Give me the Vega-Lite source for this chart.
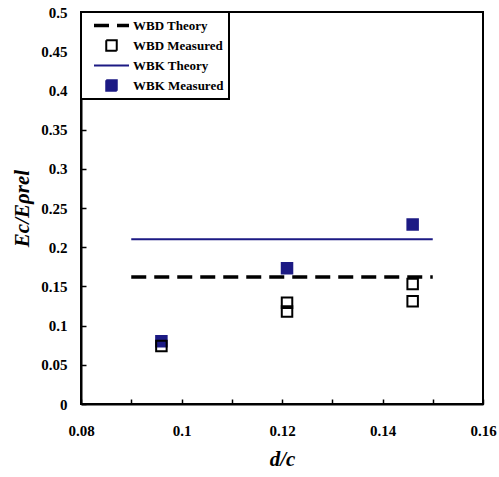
{
  "$schema": "https://vega.github.io/schema/vega-lite/v6.json",
  "width": 402,
  "height": 392,
  "autosize": "none",
  "padding": {"left": 81, "top": 12, "right": 16, "bottom": 73},
  "background": "white",
  "config": {
    "view": {"stroke": "black", "strokeWidth": 2},
    "font": "Liberation Serif",
    "axis": {
      "grid": false,
      "labelFont": "Liberation Serif",
      "labelFontWeight": "bold",
      "labelFontSize": 15,
      "labelColor": "black",
      "labelFlush": false,
      "labelOverlap": false,
      "labelBound": false,
      "domainColor": "black",
      "domainWidth": 2,
      "tickColor": "black",
      "tickWidth": 1.5,
      "tickSize": -5,
      "titleFont": "Liberation Serif",
      "titleFontStyle": "italic",
      "titleFontWeight": "bold",
      "titleFontSize": 21,
      "titleColor": "black"
    },
    "legend": {
      "orient": "top-left",
      "offset": 0,
      "title": null,
      "strokeColor": "black",
      "strokeWidth": 2,
      "fillColor": "white",
      "padding": 5,
      "labelFont": "Liberation Serif",
      "labelFontWeight": "bold",
      "labelFontSize": 13,
      "labelColor": "black",
      "labelOffset": 2,
      "clipHeight": 17,
      "rowPadding": 3,
      "symbolSize": 1225,
      "symbolOpacity": 1,
      "symbolOffset": 6
    }
  },
  "data": {
    "values": [
      {"series": "WBD Theory", "x": 0.09, "y": 0.162},
      {"series": "WBD Theory", "x": 0.15, "y": 0.162},
      {"series": "WBK Theory", "x": 0.09, "y": 0.21},
      {"series": "WBK Theory", "x": 0.15, "y": 0.21},
      {"series": "WBK Measured", "x": 0.096, "y": 0.08},
      {"series": "WBK Measured", "x": 0.121, "y": 0.173},
      {"series": "WBK Measured", "x": 0.146, "y": 0.229},
      {"series": "WBD Measured", "x": 0.096, "y": 0.074},
      {"series": "WBD Measured", "x": 0.121, "y": 0.118},
      {"series": "WBD Measured", "x": 0.121, "y": 0.129},
      {"series": "WBD Measured", "x": 0.146, "y": 0.131},
      {"series": "WBD Measured", "x": 0.146, "y": 0.153}
    ]
  },
  "encoding": {
    "x": {
      "field": "x",
      "type": "quantitative",
      "scale": {"domain": [0.08, 0.16], "nice": false, "zero": false},
      "axis": {
        "title": "d/c",
        "values": [0.08, 0.09, 0.1, 0.11, 0.12, 0.13, 0.14, 0.15, 0.16],
        "format": "~g",
        "labelExpr": "round(datum.value*100) % 2 == 0 ? datum.label : ''",
        "labelPadding": 24,
        "titlePadding": 10
      }
    },
    "y": {
      "field": "y",
      "type": "quantitative",
      "scale": {"domain": [0, 0.5], "nice": false},
      "axis": {
        "title": "Ec/Eρrel",
        "values": [0, 0.05, 0.1, 0.15, 0.2, 0.25, 0.3, 0.35, 0.4, 0.45, 0.5],
        "format": "~g",
        "labelPadding": 19,
        "titlePadding": 8
      }
    }
  },
  "layer": [
    {
      "transform": [{"filter": "indexof(datum.series, 'Theory') >= 0"}],
      "mark": {"type": "line"},
      "encoding": {
        "detail": {"field": "series"},
        "stroke": {
          "field": "series",
          "type": "nominal",
          "scale": {
            "domain": ["WBD Theory", "WBD Measured", "WBK Theory", "WBK Measured"],
            "range": ["#000000", "#000000", "#1c1a84", "#1c1a84"]
          },
          "legend": {}
        },
        "strokeDash": {
          "field": "series",
          "type": "nominal",
          "scale": {
            "domain": ["WBD Theory", "WBD Measured", "WBK Theory", "WBK Measured"],
            "range": [[15, 8], [1, 0], [1, 0], [1, 0]]
          }
        },
        "strokeWidth": {
          "field": "series",
          "type": "nominal",
          "scale": {
            "type": "ordinal",
            "domain": ["WBD Theory", "WBD Measured", "WBK Theory", "WBK Measured"],
            "range": [3.5, 2, 2, 2]
          }
        }
      }
    },
    {
      "transform": [{"filter": "indexof(datum.series, 'Measured') >= 0"}],
      "mark": {"type": "point", "opacity": 1, "size": 1225},
      "encoding": {
        "stroke": {"field": "series", "type": "nominal"},
        "fill": {
          "field": "series",
          "type": "nominal",
          "scale": {
            "domain": ["WBD Theory", "WBD Measured", "WBK Theory", "WBK Measured"],
            "range": ["transparent", "transparent", "transparent", "#1c1a84"]
          }
        },
        "shape": {
          "field": "series",
          "type": "nominal",
          "scale": {
            "domain": ["WBD Theory", "WBD Measured", "WBK Theory", "WBK Measured"],
            "range": ["M-1,0H1", "M-0.3,-0.3H0.3V0.3H-0.3Z", "M-1,0H1", "M-0.3,-0.3H0.3V0.3H-0.3Z"]
          }
        }
      }
    }
  ]
}
